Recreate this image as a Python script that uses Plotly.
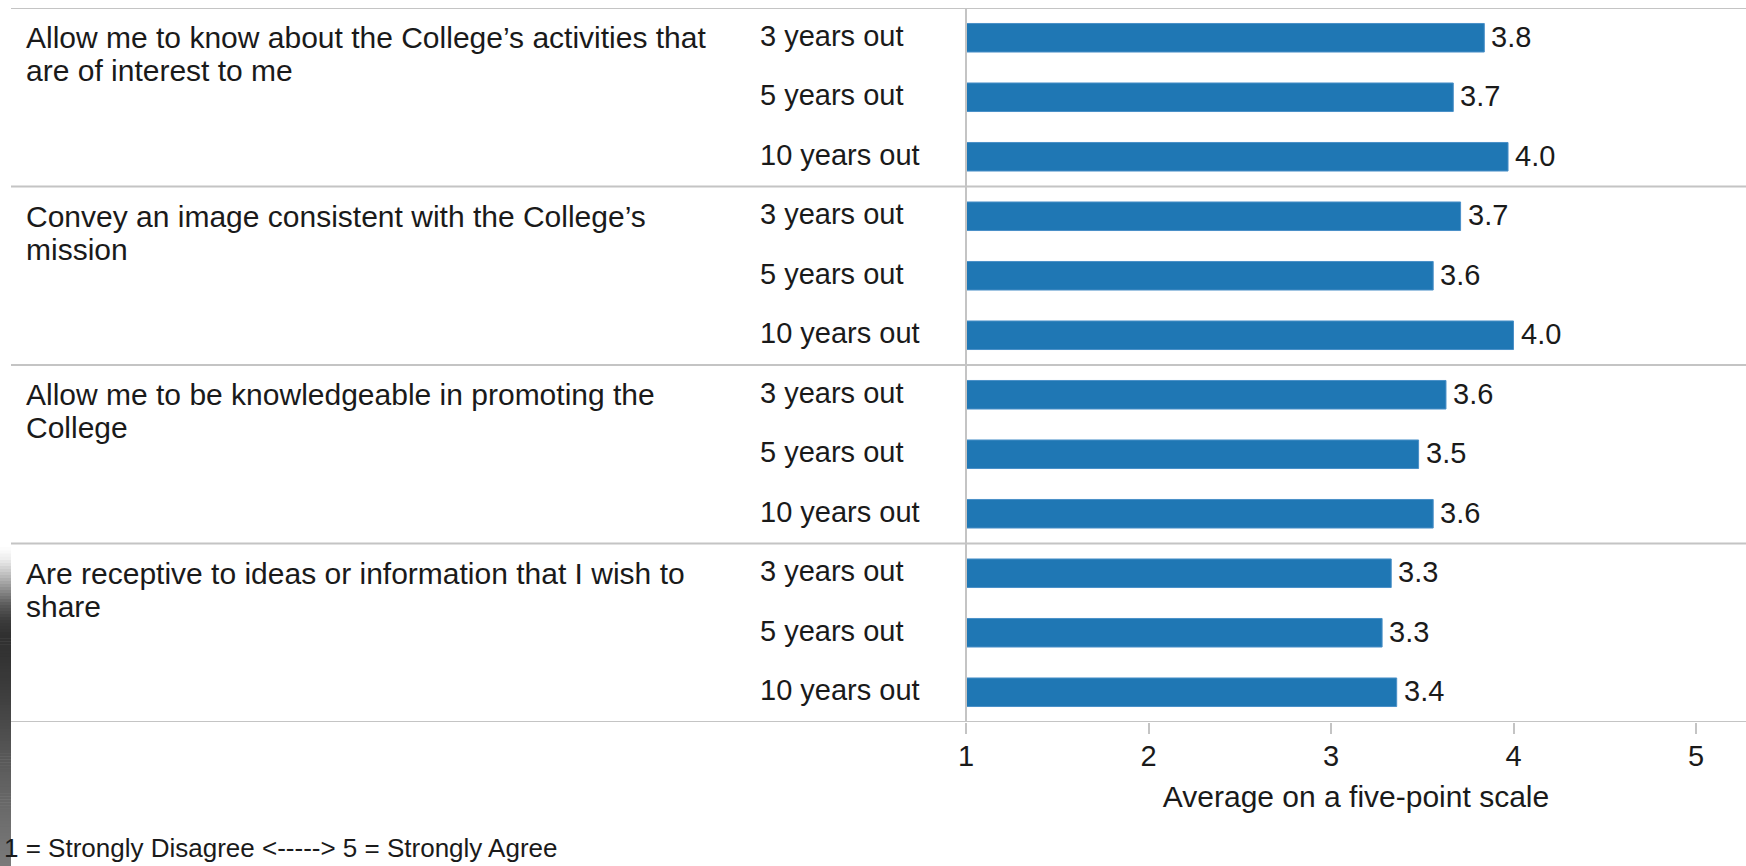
import plotly.graph_objects as go

# ---------------- data ----------------
statements = [
    ["Allow me to know about the College\u2019s activities that", "are of interest to me"],
    ["Convey an image consistent with the College\u2019s", "mission"],
    ["Allow me to be knowledgeable in promoting the", "College"],
    ["Are receptive to ideas or information that I wish to", "share"],
]
periods = ["3 years out", "5 years out", "10 years out"]

activities_vals = [3.84, 3.67, 3.97]
image_vals = [3.71, 3.56, 4.00]
promoting_vals = [3.63, 3.48, 3.56]
receptive_vals = [3.33, 3.28, 3.36]

tick_vals = [1, 2, 3, 4, 5]
tick_text = ["1", "2", "3", "4", "5"]
x_title = "Average on a five-point scale"
footnote = "1 = Strongly Disagree <-----> 5 = Strongly Agree"

# ---------------- layout constants ----------------
W, H = 1746, 866
PL, PT, PB_PX = 966, 8, 722          # plot left, top, bottom (px)
PW = W - PL
PH = PB_PX - PT
PX_PER_UNIT = 182.5
XMAX = 1 + PW / PX_PER_UNIT

FONT = "Liberation Sans, Arial, sans-serif"
TXT = "#1a1a1a"
GRID = "#c4c4c4"
BAR = "#1f77b4"


def px_x(px):
    return (px - PL) / PW


def px_y(py):
    return (PB_PX - py) / PH


groups = [activities_vals, image_vals, promoting_vals, receptive_vals]
y_idx, x_vals, labels = [], [], []
for g, vals in enumerate(groups):
    for p, v in enumerate(vals):
        y_idx.append(g * 3 + p)
        x_vals.append(v)
        labels.append(f"{v:.1f}")

fig = go.Figure()
fig.add_trace(go.Bar(
    x=x_vals, y=y_idx, orientation="h", width=0.48,
    marker=dict(color=BAR, line=dict(color="#4a90c8", width=1)),
    hoverinfo="x", showlegend=False,
))

annotations = []
# value labels
for i in range(len(y_idx)):
    annotations.append(dict(
        x=x_vals[i], xref="x", y=y_idx[i], yref="y", xshift=5, yshift=1,
        text=labels[i], showarrow=False, xanchor="left", yanchor="middle",
        font=dict(family=FONT, size=29, color=TXT),
    ))
# period labels
for i in range(len(y_idx)):
    annotations.append(dict(
        x=px_x(758), xref="paper", y=y_idx[i], yref="y", yshift=2,
        text=periods[i % 3], showarrow=False, xanchor="left", yanchor="middle",
        font=dict(family=FONT, size=29, color=TXT),
    ))
# statement labels
for g, lines in enumerate(statements):
    for k, line in enumerate(lines):
        annotations.append(dict(
            x=px_x(24), xref="paper", y=g * 3, yref="y", yshift=-33 * k,
            text=line, showarrow=False, xanchor="left", yanchor="middle",
            font=dict(family=FONT, size=30, color=TXT),
        ))
# footnote
annotations.append(dict(
    x=px_x(2), xref="paper", y=px_y(848), yref="paper",
    text=footnote, showarrow=False, xanchor="left", yanchor="middle",
    font=dict(family=FONT, size=26, color=TXT),
))

shapes = []
# group separator lines
for b in [-0.5, 2.5, 5.5, 8.5, 11.5]:
    shapes.append(dict(type="line", xref="paper", yref="y",
                       x0=px_x(11), x1=1, y0=b, y1=b,
                       line=dict(color=GRID, width=2), layer="above"))

# dark gradient strip at the left edge (screenshot artefact)
stops = [(547, 255), (560, 235), (575, 190), (590, 140), (605, 90), (620, 60),
         (635, 48), (660, 52), (690, 60), (720, 72), (750, 85), (790, 100),
         (830, 112), (866, 122)]
for j in range(len(stops) - 1):
    (y0, c0), (y1, c1) = stops[j], stops[j + 1]
    n = max(1, int((y1 - y0) / 3))
    for s in range(n):
        ya = y0 + (y1 - y0) * s / n
        yb = y0 + (y1 - y0) * (s + 1) / n + 0.5
        c = int(round(c0 + (c1 - c0) * (s + 0.5) / n))
        shapes.append(dict(type="rect", xref="paper", yref="paper",
                           x0=px_x(0), x1=px_x(11), y0=px_y(yb), y1=px_y(ya),
                           fillcolor=f"rgb({c},{c},{c})", line=dict(width=0),
                           layer="below"))

fig.update_layout(
    width=W, height=H,
    margin=dict(l=PL, r=0, t=PT, b=H - PB_PX, autoexpand=False),
    paper_bgcolor="white", plot_bgcolor="white",
    font=dict(family=FONT, size=29, color=TXT),
    xaxis=dict(
        range=[1, XMAX], tickvals=tick_vals, ticktext=tick_text,
        showgrid=False, zeroline=False, showline=False,
        ticks="outside", ticklen=11, tickwidth=2, tickcolor=GRID,
        ticklabelstandoff=-3,
        tickfont=dict(family=FONT, size=29, color=TXT),
        title=dict(text=x_title, font=dict(family=FONT, size=30, color=TXT), standoff=15),
        fixedrange=True,
    ),
    yaxis=dict(
        range=[11.5, -0.5], showticklabels=False, showgrid=False,
        zeroline=False, showline=False, ticks="", fixedrange=True,
    ),
    annotations=annotations,
    shapes=shapes + [dict(type="line", xref="paper", yref="paper",
                          x0=0, x1=0, y0=0, y1=1,
                          line=dict(color=GRID, width=2), layer="above")],
)

fig.write_html(
    "out.html",
    config={"displayModeBar": False},
    post_script="document.body.style.margin='0';document.body.style.overflow='hidden';",
)
